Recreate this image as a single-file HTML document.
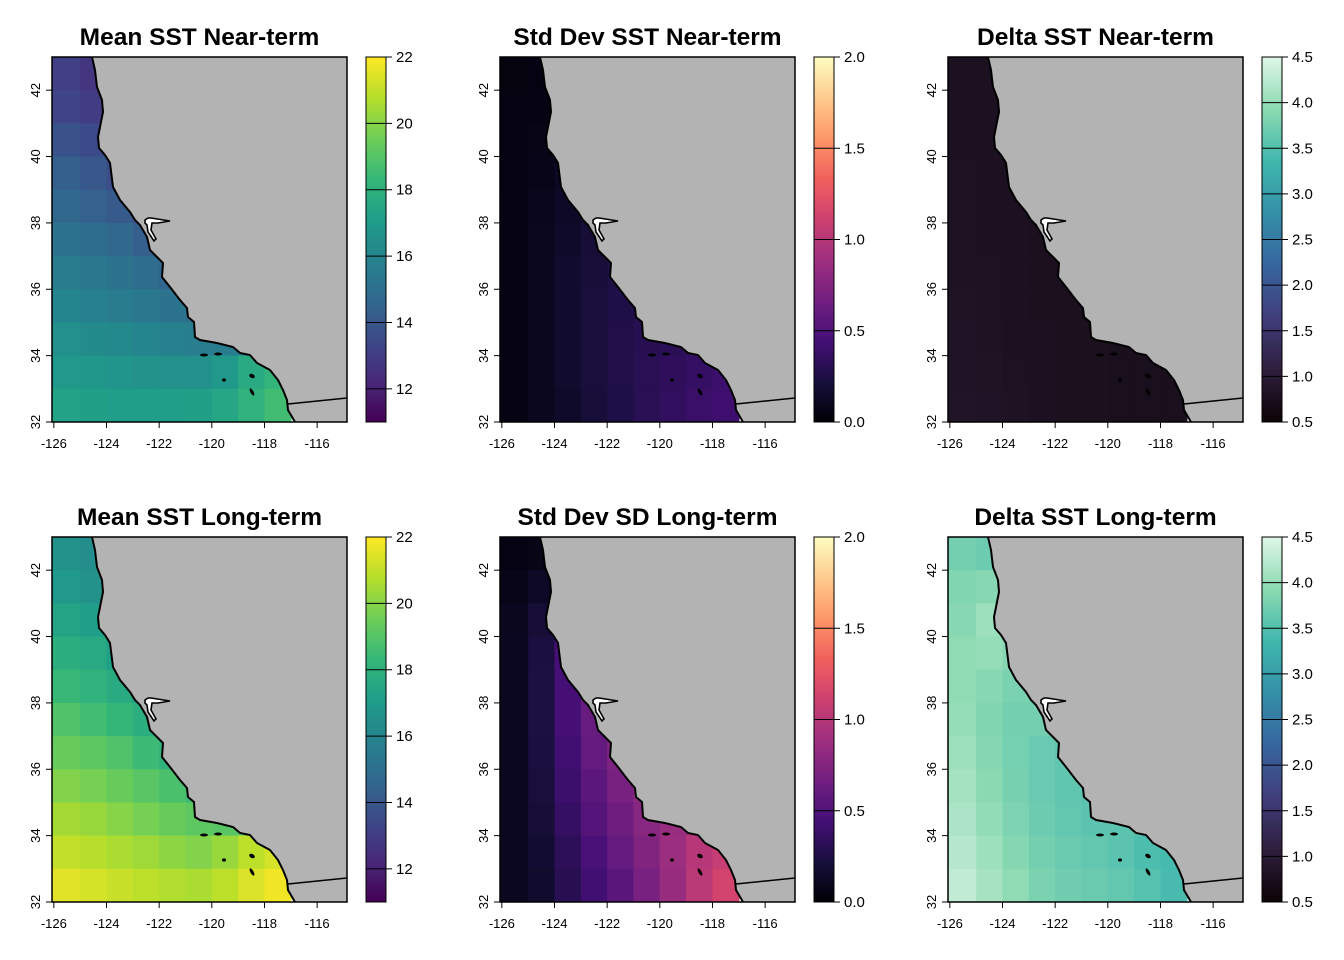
<!DOCTYPE html>
<html><head><meta charset="utf-8"><style>
html,body{margin:0;padding:0;background:#fff;}
svg{display:block;font-family:"Liberation Sans",Arial,sans-serif;}
</style></head><body>
<svg id="fig" width="1344" height="960" viewBox="0 0 1344 960"></svg>
<script>
// Grid: rows = latitude bands from 43-42 down to 33-32; cols = longitude bands -126..-117
const lonCells = [-126,-125,-124,-123,-122,-121,-120,-119,-118];
const latCells = [43,42,41,40,39,38,37,36,35,34,33];
const xTicks = [-126,-124,-122,-120,-118,-116];
const yTicks = [32,34,36,38,40,42];

const meanNear = [
 [13.1,12.7,12.4,12.3,12.3,12.3,12.3,12.3,12.3],
 [13.3,13.0,12.6,12.4,12.4,12.4,12.4,12.4,12.4],
 [13.8,13.5,13.1,12.8,12.7,12.7,12.7,12.7,12.7],
 [14.3,14.0,13.6,13.2,13.0,13.0,13.0,13.0,13.0],
 [14.7,14.4,14.1,13.7,13.3,13.2,13.2,13.2,13.2],
 [15.2,14.9,14.7,14.3,14.0,13.7,13.7,13.7,13.7],
 [15.6,15.4,15.2,14.9,14.6,14.4,14.3,14.3,14.3],
 [16.0,15.8,15.6,15.4,15.2,15.0,14.8,14.8,14.8],
 [16.5,16.3,16.2,16.0,15.8,15.7,15.7,15.9,16.1],
 [16.9,16.8,16.7,16.6,16.5,16.5,16.9,17.7,18.2],
 [17.3,17.2,17.1,17.1,17.1,17.2,17.5,18.1,18.6]];
const sdNear = [
 [0.04,0.05,0.06,0.06,0.06,0.06,0.06,0.06,0.06],
 [0.05,0.06,0.08,0.10,0.10,0.10,0.10,0.10,0.10],
 [0.05,0.07,0.10,0.13,0.14,0.14,0.14,0.14,0.14],
 [0.05,0.08,0.12,0.16,0.18,0.18,0.18,0.18,0.18],
 [0.06,0.09,0.14,0.18,0.21,0.22,0.22,0.22,0.22],
 [0.06,0.10,0.15,0.20,0.23,0.25,0.25,0.25,0.25],
 [0.06,0.10,0.16,0.21,0.25,0.27,0.28,0.28,0.28],
 [0.06,0.10,0.16,0.22,0.26,0.29,0.30,0.30,0.30],
 [0.06,0.10,0.16,0.22,0.27,0.30,0.32,0.34,0.34],
 [0.06,0.10,0.16,0.22,0.27,0.31,0.34,0.37,0.40],
 [0.06,0.10,0.15,0.21,0.26,0.31,0.35,0.39,0.42]];
const deltaNear = [
 [0.78,0.78,0.77,0.77,0.77,0.77,0.77,0.77,0.77],
 [0.79,0.78,0.77,0.77,0.77,0.77,0.77,0.77,0.77],
 [0.79,0.78,0.77,0.77,0.77,0.77,0.77,0.77,0.77],
 [0.80,0.79,0.78,0.77,0.77,0.77,0.77,0.77,0.77],
 [0.80,0.79,0.78,0.77,0.76,0.76,0.76,0.76,0.76],
 [0.81,0.79,0.78,0.77,0.76,0.76,0.76,0.76,0.76],
 [0.81,0.80,0.78,0.77,0.76,0.76,0.76,0.76,0.76],
 [0.82,0.80,0.79,0.77,0.76,0.75,0.75,0.75,0.75],
 [0.83,0.81,0.79,0.78,0.77,0.76,0.75,0.75,0.75],
 [0.84,0.82,0.80,0.78,0.77,0.76,0.75,0.75,0.75],
 [0.85,0.83,0.81,0.79,0.77,0.76,0.75,0.75,0.75]];
const meanLong = [
 [16.6,16.4,16.2,16.0,16.0,16.0,16.0,16.0,16.0],
 [16.9,16.6,16.4,16.2,16.2,16.2,16.2,16.2,16.2],
 [17.4,17.1,16.8,16.5,16.4,16.4,16.4,16.4,16.4],
 [17.9,17.6,17.2,16.9,16.7,16.7,16.7,16.7,16.7],
 [18.4,18.1,17.7,17.3,17.0,16.9,16.9,16.9,16.9],
 [18.9,18.6,18.3,17.9,17.5,17.3,17.3,17.3,17.3],
 [19.4,19.2,18.9,18.5,18.1,17.8,17.7,17.7,17.7],
 [19.9,19.7,19.4,19.1,18.8,18.5,18.3,18.3,18.3],
 [20.5,20.3,20.0,19.7,19.4,19.2,19.1,19.3,19.6],
 [21.0,20.8,20.6,20.4,20.1,19.9,20.3,20.9,21.3],
 [21.5,21.3,21.1,20.9,20.7,20.6,20.9,21.4,21.8]];
const sdLong = [
 [0.05,0.07,0.12,0.15,0.15,0.15,0.15,0.15,0.15],
 [0.08,0.14,0.30,0.45,0.45,0.45,0.45,0.45,0.45],
 [0.10,0.20,0.40,0.55,0.55,0.55,0.55,0.55,0.55],
 [0.11,0.23,0.45,0.58,0.64,0.64,0.64,0.64,0.64],
 [0.11,0.24,0.45,0.62,0.72,0.75,0.75,0.75,0.75],
 [0.11,0.24,0.45,0.62,0.75,0.78,0.78,0.78,0.78],
 [0.11,0.23,0.43,0.60,0.72,0.78,0.80,0.80,0.80],
 [0.11,0.22,0.40,0.56,0.70,0.80,0.85,0.86,0.86],
 [0.11,0.20,0.37,0.52,0.65,0.78,0.86,0.92,0.94],
 [0.11,0.18,0.33,0.47,0.60,0.74,0.88,1.00,1.08],
 [0.11,0.16,0.30,0.43,0.55,0.70,0.86,1.02,1.14]];
const deltaLong = [
 [3.75,3.70,3.65,3.65,3.65,3.65,3.65,3.65,3.65],
 [3.85,3.90,3.80,3.75,3.75,3.75,3.75,3.75,3.75],
 [3.90,4.05,4.00,3.85,3.85,3.85,3.85,3.85,3.85],
 [3.95,4.00,3.90,3.80,3.80,3.80,3.80,3.80,3.80],
 [3.95,3.90,3.80,3.75,3.80,3.80,3.80,3.80,3.80],
 [4.00,3.85,3.75,3.75,3.85,3.70,3.70,3.70,3.70],
 [4.05,3.88,3.76,3.66,3.60,3.56,3.56,3.56,3.56],
 [4.10,3.92,3.78,3.66,3.60,3.56,3.56,3.56,3.56],
 [4.15,3.98,3.82,3.70,3.62,3.56,3.56,3.56,3.56],
 [4.22,4.05,3.88,3.75,3.67,3.62,3.56,3.46,3.40],
 [4.30,4.12,3.95,3.80,3.72,3.67,3.62,3.52,3.42]];

const viridis=["#440154","#482878","#3e4989","#31688e","#26828e","#1f9e89","#35b779","#6ece58","#b5de2b","#fde725"];
const magma=["#000004","#180f3d","#440f76","#721f81","#9e2f7f","#cd4071","#f1605d","#fd9668","#feca8d","#fcfdbf"];
const mako=["#0b0405","#2e1e3c","#413d7b","#37659e","#348fa7","#40b7ad","#8bdab2","#def5e5"];

const panels=[
 {title:"Mean SST Near-term",data:meanNear,pal:viridis,min:11,max:22,ticks:[12,14,16,18,20,22],fmt:0},
 {title:"Std Dev SST Near-term",data:sdNear,pal:magma,min:0,max:2,ticks:[0,0.5,1,1.5,2],fmt:1},
 {title:"Delta SST Near-term",data:deltaNear,pal:mako,min:0.5,max:4.5,ticks:[0.5,1,1.5,2,2.5,3,3.5,4,4.5],fmt:1},
 {title:"Mean SST Long-term",data:meanLong,pal:viridis,min:11,max:22,ticks:[12,14,16,18,20,22],fmt:0},
 {title:"Std Dev SD Long-term",data:sdLong,pal:magma,min:0,max:2,ticks:[0,0.5,1,1.5,2],fmt:1},
 {title:"Delta SST Long-term",data:deltaLong,pal:mako,min:0.5,max:4.5,ticks:[0.5,1,1.5,2,2.5,3,3.5,4,4.5],fmt:1}];

const W=295,H=365;
const xs=lon=>(lon+126.07)*26.33;
const ys=lat=>(43-lat)*33.18;
function hex(h){return [1,3,5].map(i=>parseInt(h.substr(i,2),16));}
function colorAt(pal,t){t=Math.max(0,Math.min(1,t));const n=pal.length-1;const i=Math.min(n-1,Math.floor(t*n));const f=t*n-i;const a=hex(pal[i]),b=hex(pal[i+1]);return "rgb("+a.map((v,k)=>Math.round(v+(b[k]-v)*f)).join(",")+")";}

const coast="M40,0 L43,13 L45,30 L50,43 L51,55 L48,70 L46,80 L47,91 L53,98 L58,106 L61,130 L68,143 L78,155 L83,163 L88,168 L95,180 L98,193 L105,200 L111,206 L110,220 L118,230 L128,243 L135,251 L136,260 L142,265 L143,280 L148,283 L165,286 L181,290 L188,296 L198,298 L205,306 L218,313 L226,323 L231,333 L235,343 L236,353 L243,365";
const NS="http://www.w3.org/2000/svg";
const svg=document.getElementById('fig');
function el(tag,attrs,parent){const e=document.createElementNS(NS,tag);for(const k in attrs)e.setAttribute(k,attrs[k]);parent.appendChild(e);return e;}

panels.forEach((p,pi)=>{
 const ox=52+(pi%3)*448, oy=57+Math.floor(pi/3)*480;
 const g=el('g',{transform:`translate(${ox},${oy})`},svg);
 
 
 const t=el('text',{x:W/2,y:-12,'text-anchor':'middle','font-size':'24.5','font-weight':'bold'},g);
 t.textContent=p.title;
 
 
 const clipId='c'+pi;
 const cp=el('clipPath',{id:clipId},g);el('rect',{x:0,y:0,width:W,height:H},cp);
 const hm=el('g',{'clip-path':`url(#${clipId})`},g);
 
 
 p.data.forEach((row,ri)=>row.forEach((v,ci)=>{
  const x0=ci===0?0:xs(lonCells[ci]);const x1=xs(lonCells[ci]+1);
  const y0=ys(latCells[ri]);const y1=ys(latCells[ri]-1);
  const r=el('rect',{x:x0,y:y0,width:x1-x0+0.6,height:y1-y0+0.6,fill:colorAt(p.pal,(v-p.min)/(p.max-p.min))},hm);
  
  
 }));
 const land=el('path',{d:coast+` L${W},${H} L${W},0 Z`,fill:'#b3b3b3',stroke:'none'},hm);
 
 
 const cl=el('path',{d:coast,fill:'none',stroke:'#000','stroke-width':2},hm);
 
 
 const bd=el('path',{d:`M236,347 L${W},341`,fill:'none',stroke:'#000','stroke-width':1.5},hm);
 
 
 const bay=el('path',{d:'M93,163 L96,161 L99,161 L118,164 L106,166 L100,166 L99,173 L104,182 L102,184 L96,175 L95,168 L93,166 Z',fill:'#fff',stroke:'#000','stroke-width':1.6},hm);
 
 
 [[152,298,4,1.5,0],[166,297,4,1.5,0],[172,323,2,1.6,0],[200,319,3,2,30],[200,335,1.6,4,-30]].forEach(a=>{
  const e=el('ellipse',{cx:a[0],cy:a[1],rx:a[2],ry:a[3],transform:`rotate(${a[4]} ${a[0]} ${a[1]})`,fill:'#000'},hm);
  
  
 });
 const box=el('rect',{x:0,y:0,width:W,height:H,fill:'none',stroke:'#000','stroke-width':1.5},g);
 
 
 xTicks.forEach(v=>{
  const x=xs(v);
  el('line',{x1:x,x2:x,y1:H,y2:H+6,stroke:'#000','stroke-width':1},g);
  const tx=el('text',{x:x,y:H+26,'text-anchor':'middle','font-size':'13'},g);
  tx.textContent=v;
  
  
 });
 yTicks.forEach(v=>{
  const y=ys(v);
  el('line',{x1:-6,x2:0,y1:y,y2:y,stroke:'#000','stroke-width':1},g);
  const ty=el('text',{x:0,y:0,'text-anchor':'middle','font-size':'13',transform:`translate(-12,${y}) rotate(-90)`},g);
  ty.textContent=v;
  
  
 });
 // colorbar
 const cb=el('g',{transform:'translate(314,0)'},g);
 
 
 const N=120;
 for(let i=0;i<N;i++){
  el('rect',{x:0,y:H-(i+1)*H/N,width:20,height:H/N+0.5,fill:colorAt(p.pal,(i+0.5)/N)},cb);
 }
 const cy=v=>H-(v-p.min)/(p.max-p.min)*H;
 p.ticks.forEach(v=>{
  const y=cy(v);
  el('line',{x1:0,x2:26,y1:y,y2:y,stroke:'#000','stroke-width':1},cb);
  const lt=el('text',{x:30,y:y+5,'font-size':'15'},cb);
  lt.textContent=v.toFixed(p.fmt);
  
  
 });
 el('rect',{x:0,y:0,width:20,height:H,fill:'none',stroke:'#000','stroke-width':1},cb);
});
</script>
</body></html>
